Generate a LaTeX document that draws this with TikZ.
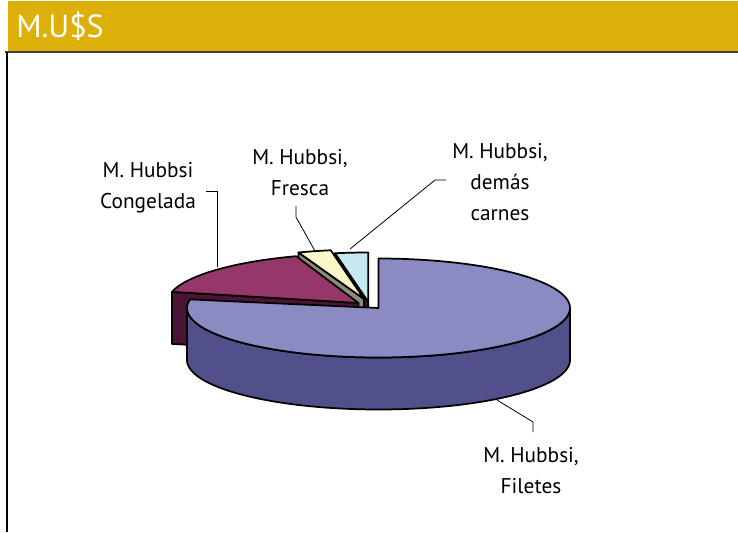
\documentclass[tikz,border=0pt]{standalone}
\usepackage{fontspec}
\setmainfont{PT Sans}
\definecolor{gold}{RGB}{220,176,8}
\definecolor{topblue}{RGB}{137,139,194}
\definecolor{sideblue}{RGB}{82,80,138}
\definecolor{maroontop}{RGB}{150,55,105}
\definecolor{maroonside}{RGB}{75,20,55}
\definecolor{cream}{RGB}{250,248,200}
\definecolor{olivegray}{RGB}{140,140,120}
\definecolor{lightblue}{RGB}{198,232,240}
\definecolor{darkface}{RGB}{30,30,30}
\begin{document}
\begin{tikzpicture}[x=0.75pt,y=-0.75pt,
  outl/.style={draw=black,line width=1.3pt,line join=round},
  lbl/.style={font=\fontsize{16pt}{23.25pt}\selectfont,align=center,inner sep=0pt},
  leader/.style={draw=black,line width=0.6pt}]
\useasboundingbox (0,0) rectangle (738,532);
\fill[white] (0,0) rectangle (738,532);
% header
\fill[gold] (8,1) rectangle (738,51.5);
\draw[line width=1.1pt,draw=black!75] (5,52) -- (738,52);
\draw[line width=1.5pt] (6.5,52) -- (6.5,532);
\node[anchor=base west,text=white,inner sep=0pt,font=\fontsize{24pt}{24pt}\selectfont] (title) at (16,37) {M.U\$S};
% ---- blue slice (demas carnes)
\coordinate (B) at (368.3,302);
\filldraw[outl,fill=darkface] (B) -- ({368.3+191.5*cos(100)},{302-49.5*sin(100)}) -- ({368.3+191.5*cos(100)},{354-49.5*sin(100)}) -- (368.3,354) -- cycle;
\filldraw[outl,fill=lightblue] (B) -- plot[domain=90:100,samples=8] ({368.3+191.5*cos(\x)},{302-49.5*sin(\x)}) -- cycle;
% ---- yellow slice (Fresca)
\coordinate (Y) at (364,299);
\filldraw[outl,fill=olivegray] (Y) -- ({364+191.5*cos(110)},{299-49.5*sin(110)}) -- ({364+191.5*cos(110)},{351-49.5*sin(110)}) -- (364,351) -- cycle;
\filldraw[outl,fill=cream] (Y) -- plot[domain=100:110,samples=8] ({364+191.5*cos(\x)},{299-49.5*sin(\x)}) -- cycle;
% ---- maroon slice (Congelada)
\coordinate (M) at (358.5,303);
\filldraw[outl,fill=maroonside] (M) -- ({358.5+191.5*cos(167)},{303-49.5*sin(167)}) -- ({358.5+191.5*cos(167)},{355-49.5*sin(167)}) -- (358.5,355) -- cycle;
\filldraw[outl,fill=maroontop] (M) -- plot[domain=109:167,samples=30] ({358.5+191.5*cos(\x)},{303-49.5*sin(\x)}) -- cycle;
% ---- big slice (Filetes)
\coordinate (F) at (378.5,308);
\filldraw[outl,fill=sideblue] plot[domain=180:360,samples=80] ({378.5+191.5*cos(\x)},{308-49.5*sin(\x)}) -- plot[domain=360:180,samples=80] ({378.5+191.5*cos(\x)},{360-49.5*sin(\x)}) -- cycle;
\filldraw[outl,fill=topblue] (F) -- plot[domain=170:450,samples=120] ({378.5+191.5*cos(\x)},{308-49.5*sin(\x)}) -- cycle;
% ---- labels
\node[lbl] (lcong) at (148,188) {M. Hubbsi\\Congelada};
\node[lbl] (lfres) at (300,173) {M. Hubbsi,\\Fresca};
\node[lbl] (ldem) at (500,182) {M. Hubbsi,\\demás\\carnes};
\node[lbl] (lfil) at (531,471) {M. Hubbsi,\\Filetes};
% ---- leaders
\coordinate (c1) at (206,191); \coordinate (c2) at (217,191); \coordinate (c3) at (217,267);
\draw[leader] (c1) -- (c2) -- (c3);
\coordinate (f1) at (296,206); \coordinate (f2) at (296,217); \coordinate (f3) at (315,251);
\draw[leader] (f1) -- (f2) -- (f3);
\coordinate (d1) at (446,180); \coordinate (d2) at (435,180); \coordinate (d3) at (350,249);
\draw[leader] (d1) -- (d2) -- (d3);
\coordinate (e1) at (497,400); \coordinate (e2) at (533,422); \coordinate (e3) at (533,432);
\draw[leader] (e1) -- (e2) -- (e3);
\end{tikzpicture}
\end{document}
